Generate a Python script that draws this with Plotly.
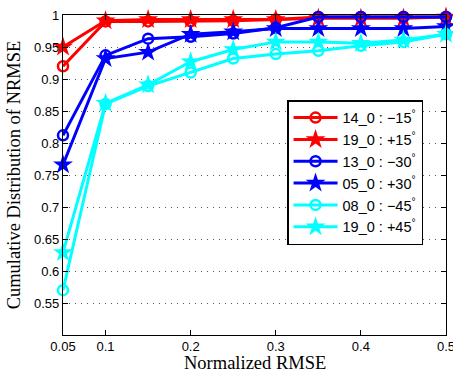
import plotly.graph_objects as go

x_vals = [0.05, 0.1, 0.15, 0.2, 0.25, 0.3, 0.35, 0.4, 0.45, 0.5]

s_14_0_m15 = [0.92, 0.990, 0.990, 0.990, 0.991, 0.993, 0.997, 0.997, 0.997, 0.997]
s_19_0_p15 = [0.95, 0.991, 0.993, 0.993, 0.993, 0.993, 0.995, 0.995, 0.995, 0.997]
s_13_0_m30 = [0.812, 0.937, 0.963, 0.966, 0.971, 0.980, 0.997, 0.997, 0.997, 0.997]
s_05_0_p30 = [0.766, 0.932, 0.942, 0.970, 0.974, 0.979, 0.979, 0.979, 0.979, 0.982]
s_08_0_m45 = [0.570, 0.861, 0.889, 0.910, 0.932, 0.939, 0.944, 0.952, 0.958, 0.970]
s_19_0_p45 = [0.629, 0.862, 0.891, 0.927, 0.946, 0.958, 0.958, 0.956, 0.961, 0.970]

names = ["14_0 : −15<sup>°</sup>", "19_0 : +15<sup>°</sup>", "13_0 : −30<sup>°</sup>",
         "05_0 : +30<sup>°</sup>", "08_0 : −45<sup>°</sup>", "19_0 : +45<sup>°</sup>"]
series = [s_14_0_m15, s_19_0_p15, s_13_0_m30, s_05_0_p30, s_08_0_m45, s_19_0_p45]
colors = ["#ff0000", "#ff0000", "#0000ff", "#0000ff", "#00ffff", "#00ffff"]
symbols = ["circle-open", "star", "circle-open", "star", "circle-open", "star"]

x_ticks = [0.05, 0.1, 0.2, 0.3, 0.4, 0.5]
x_ticklabels = ["0.05", "0.1", "0.2", "0.3", "0.4", "0.5"]
y_ticks = [0.55, 0.6, 0.65, 0.7, 0.75, 0.8, 0.85, 0.9, 0.95, 1.0]
y_ticklabels = ["0.55", "0.6", "0.65", "0.7", "0.75", "0.8", "0.85", "0.9", "0.95", "1"]
x_title = "Normalized RMSE"
y_title = "Cumulative Distribution of NRMSE"

fig = go.Figure()
for name, ys, c, sym in zip(names, series, colors, symbols):
    is_star = sym == "star"
    fig.add_trace(go.Scatter(
        x=x_vals, y=ys, name=name, mode="lines+markers", cliponaxis=False,
        line=dict(color=c, width=3),
        marker=dict(symbol=sym, size=15 if is_star else 10, color=c,
                    line=dict(color=c, width=2.5 if not is_star else 0)),
    ))

axis_common = dict(
    showline=True, linecolor="black", linewidth=1.2, mirror="ticks",
    ticks="inside", ticklen=5, tickcolor="black",
    tickfont=dict(family="Liberation Sans, Arial, sans-serif", size=13, color="black"),
    zeroline=False, automargin=False, ticklabeloverflow="allow",
)

fig.update_xaxes(
    range=[0.05, 0.50001], tickvals=x_ticks, ticktext=x_ticklabels, showgrid=False,
    ticklabelstandoff=-1,
    **axis_common)
fig.update_yaxes(
    range=[0.5, 1.00001], tickvals=y_ticks, ticktext=y_ticklabels,
    showgrid=True, gridcolor="#555555", griddash="1px,5px", gridwidth=1,
    title=dict(text=y_title, standoff=8,
               font=dict(family="Liberation Serif, Times New Roman, serif", size=18.5, color="black")),
    **axis_common)

fig.add_annotation(
    text=x_title, xref="paper", yref="paper", x=0.5, y=-0.087,
    xanchor="center", yanchor="middle", showarrow=False,
    font=dict(family="Liberation Serif, Times New Roman, serif", size=18.5, color="black"),
)

fig.update_layout(
    width=453, height=375,
    margin=dict(l=63, r=7, t=15, b=40),
    plot_bgcolor="white", paper_bgcolor="white",
    legend=dict(x=0.585, y=0.734, xanchor="left", yanchor="top",
                bgcolor="white", bordercolor="black", borderwidth=1.5,
                font=dict(family="Liberation Sans, Arial, sans-serif", size=14.5, color="black"),
                tracegroupgap=0, itemwidth=44),
    showlegend=True,
)

fig.write_html("out.html", config={"displayModeBar": False},
               post_script="document.body.style.margin='0';document.body.style.overflow='hidden';")
